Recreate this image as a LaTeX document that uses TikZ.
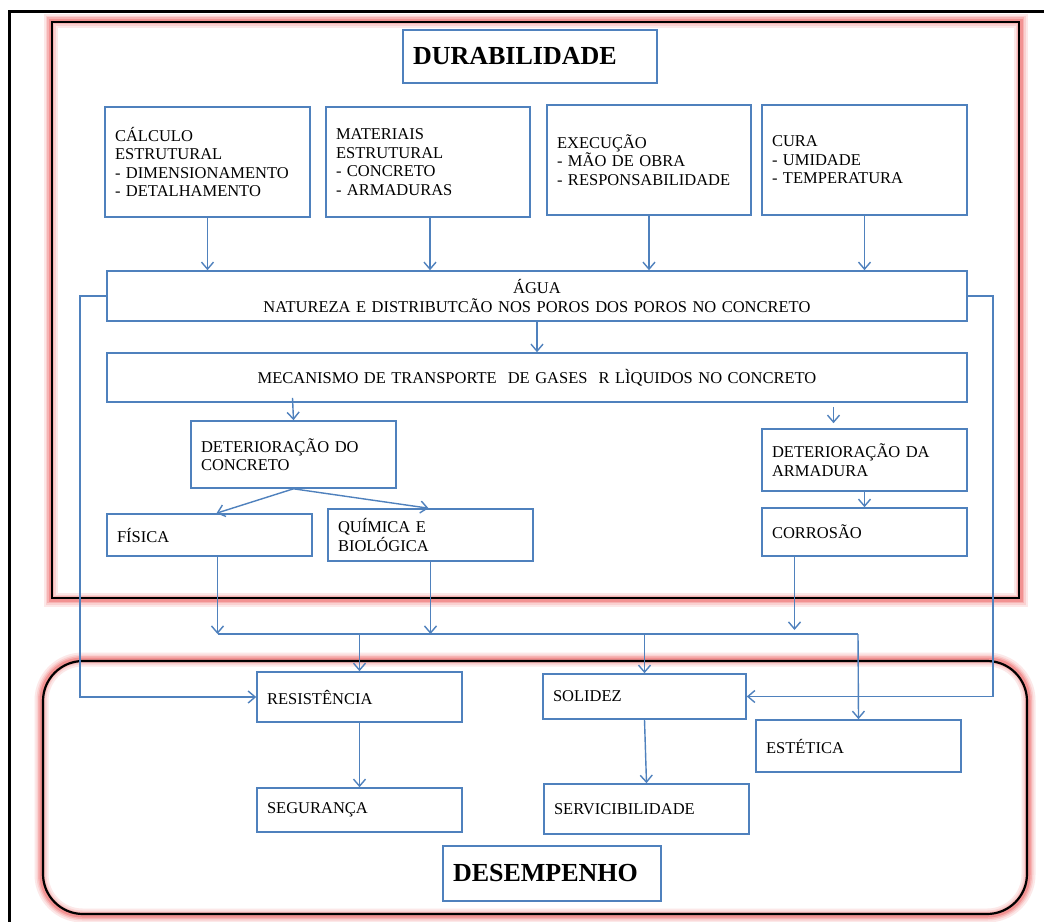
\documentclass[tikz,border=0pt]{standalone}
\usepackage{fontspec}
\setmainfont{Liberation Serif}
\usetikzlibrary{arrows.meta,calc}
\definecolor{boxblue}{RGB}{79,129,189}
\definecolor{glowred}{RGB}{238,110,110}

\begin{document}
\begin{tikzpicture}[x=1pt,y=-1pt,
  bx/.style={draw=boxblue, line width=1.6pt, fill=white, rectangle,
    inner xsep=10pt, inner ysep=0pt, align=left,
    font=\fontsize{16.5}{18.5}\selectfont},
  bxc/.style={bx, align=center},
  title/.style={bx, font=\fontsize{26}{30}\selectfont\bfseries},
  link/.style={draw=boxblue, line width=1.4pt,
    -{Straight Barb[length=7pt,width=12pt,line width=1.4pt]}},
  wire/.style={draw=boxblue, line width=1.4pt},
  glowA/.style={draw=glowred!16, line width=14pt},
  glowB/.style={draw=glowred!32, line width=10pt},
  glowC/.style={draw=glowred!52, line width=7pt},
  glowD/.style={draw=glowred!75, line width=4pt},
  frameline/.style={draw=black, line width=2.2pt},
]
\useasboundingbox (0,0) rectangle (1044,921);
\fill[white] (0,0) rectangle (1044,921);

% page frame
\draw[black, line width=3.5pt, line join=miter] (9.5,930) -- (9.5,11.5) -- (1050,11.5);

% DURABILIDADE frame with its soft halo (slightly outward)
\foreach \g in {glowA,glowB,glowC,glowD}
  \draw[\g] (50.5,20.5) rectangle (1020.5,599.5);
\draw[frameline] (52,22) rectangle (1019,598);

% DESEMPENHO frame with its soft halo
\foreach \g in {glowA,glowB,glowC,glowD}
  \draw[\g, rounded corners=41pt] (41.5,659.5) rectangle (1028.5,915.5);
\draw[frameline, rounded corners=40pt] (43,661) rectangle (1027,914);

% titles
\node[title, minimum width=254pt, minimum height=53pt, text width=234pt] (durab) at (530,56.5) {DURABILIDADE};
\node[title, minimum width=218pt, minimum height=55pt, text width=198pt] (desemp) at (552,873.5) {DESEMPENHO};

% factors
\node[bx, minimum height=110pt, text width=185pt] (calc) at (207.5,162) {CÁLCULO\\ESTRUTURAL\\- DIMENSIONAMENTO\\- DETALHAMENTO};
\node[bx, minimum height=110pt, text width=184pt] (mat) at (428,162) {MATERIAIS\\ESTRUTURAL\\- CONCRETO\\- ARMADURAS};
\node[bx, minimum height=110pt, text width=184pt] (exec) at (649,160) {EXECUÇÃO\\- MÃO DE OBRA\\- RESPONSABILIDADE};
\node[bx, minimum height=110pt, text width=185pt] (cura) at (864.5,160) {CURA\\- UMIDADE\\- TEMPERATURA};

% water and transport
\node[bxc, minimum height=50pt, text width=840pt] (agua) at (537,296) {ÁGUA\\NATUREZA E DISTRIBUTCÃO NOS POROS DOS POROS NO CONCRETO};
\node[bxc, minimum height=49pt, text width=840pt] (mec) at (537,377.5) {MECANISMO DE TRANSPORTE\ \ DE GASES\ \ R LÌQUIDOS NO CONCRETO};

% deterioration
\node[bx, minimum height=67pt, text width=185pt] (detconc) at (293.5,454.5) {DETERIORAÇÃO DO\\CONCRETO};
\node[bx, minimum height=42pt, text width=185pt] (fisica) at (209.5,535) {FÍSICA};
\node[bx, minimum height=52pt, text width=185pt] (quim) at (430.5,535) {QUÍMICA E\\BIOLÓGICA};
\node[bx, minimum height=62pt, text width=185pt] (detarm) at (864.5,460) {DETERIORAÇÃO DA\\ARMADURA};
\node[bx, minimum height=48pt, text width=185pt] (corr) at (864.5,532) {CORROSÃO};

% performance
\node[bx, minimum height=50pt, text width=185pt] (resist) at (359.5,697) {RESISTÊNCIA};
\node[bx, minimum height=44pt, text width=185pt] (seg) at (359.5,810) {SEGURANÇA};
\node[bx, minimum height=45pt, text width=183pt] (solidez) at (644.5,696.5) {SOLIDEZ};
\node[bx, minimum height=50pt, text width=185pt] (serv) at (646.5,809) {SERVICIBILIDADE};
\node[bx, minimum height=52pt, text width=185pt] (estet) at (858.5,746) {ESTÉTICA};

% routing points
\coordinate (busL) at (218,634);
\coordinate (busR) at (858,634);
\coordinate (sideL) at (80,0);
\coordinate (sideR) at (993,0);

% factors into water
\draw[link] (calc.south) -- (calc.south |- agua.north);
\draw[link] ($(mat.south)+(2,0)$) -- ($(mat.south |- agua.north)+(2,0)$);
\draw[link] (exec.south) -- (exec.south |- agua.north);
\draw[link] (cura.south) -- (cura.south |- agua.north);

% water to transport
\draw[link] (agua.south) -- (mec.north);

% transport to deterioration
\draw[link] ($(detconc.north |- mec.south)+(-1,-5)$) -- (detconc.north);
\draw[link] ($(detarm.north |- mec.south)+(-31,4)$) -- ($(detarm.north)+(-31,-5)$);
\draw[link] (detarm.south) -- (corr.north);
\draw[link] (detconc.south) -- ($(fisica.north)+(7,0)$);
\draw[link] (detconc.south) -- ($(quim.north)+(-2,0)$);

% into the collecting bus
\draw[link] ($(fisica.south)+(8,0)$) -- ($(fisica.south |- busL)+(8,0)$);
\draw[link] (quim.south) -- (quim.south |- busL);
\draw[link] ($(corr.south)+(-70,0)$) -- ($(corr.south |- busL)+(-70,-4)$);
\draw[wire] (busL) -- (busR);

% bus to performance
\draw[link] (resist.north |- busL) -- (resist.north);
\draw[link] (solidez.north |- busL) -- (solidez.north);
\draw[link] (busR) -- (estet.north);
\draw[link] (resist.south) -- (seg.north);
\draw[link] (solidez.south) -- (serv.north);

% water feedback to performance
\draw[link] (agua.west) -- (agua.west -| sideL) -- (sideL |- resist.west) -- (resist.west);
\draw[link] (agua.east) -- (agua.east -| sideR) -- (sideR |- solidez.east) -- (solidez.east);
\end{tikzpicture}
\end{document}
